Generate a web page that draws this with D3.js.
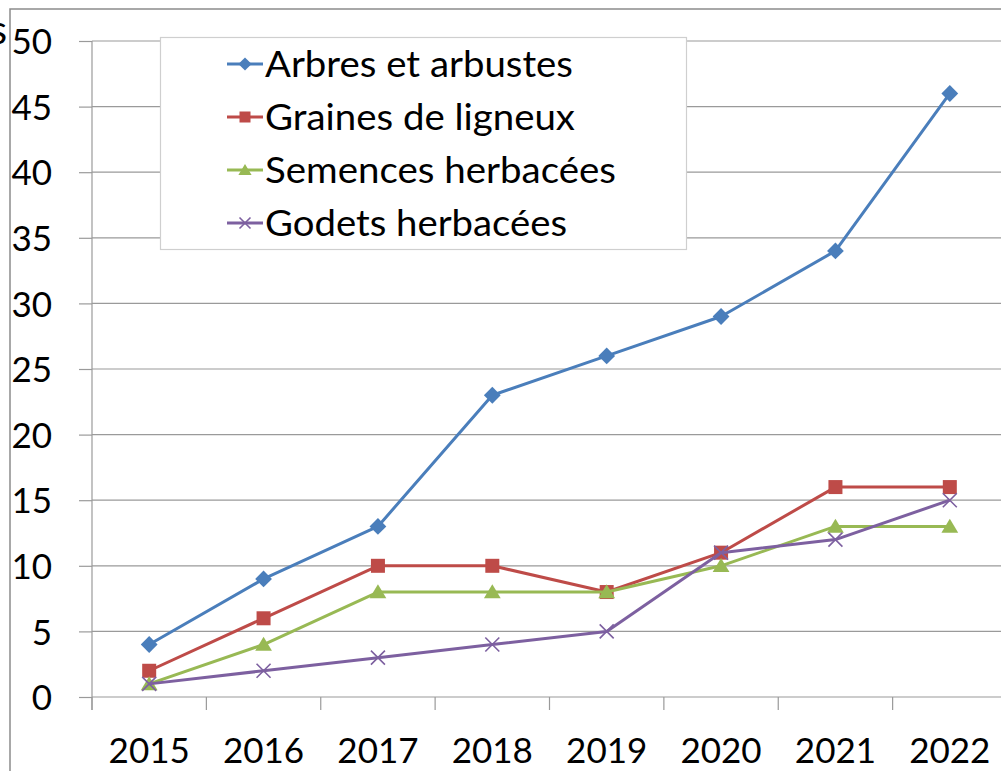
<!DOCTYPE html>
<html>
<head>
<meta charset="utf-8">
<script src="https://cdn.jsdelivr.net/npm/d3@7"></script>
<style>
  body { margin: 0; background: #fff; }
  svg { display: block; font-family: Lato, "Open Sans", sans-serif; }
</style>
</head>
<body>
<div id="chart"></div>
<script>
// data
const years = ["2015", "2016", "2017", "2018", "2019", "2020", "2021", "2022"];
const arbres   = [4, 9, 13, 23, 26, 29, 34, 46];
const graines  = [2, 6, 10, 10, 8, 11, 16, 16];
const semences = [1, 4, 8, 8, 8, 10, 13, 13];
const godets   = [1, 2, 3, 4, 5, 11, 12, 15];
const seriesNames = ["Arbres et arbustes", "Graines de ligneux", "Semences herbacées", "Godets herbacées"];
const yTicks = [0, 5, 10, 15, 20, 25, 30, 35, 40, 45, 50];

const width = 1001, height = 771;
const plotLeft = 92, plotRight = 1007, plotTop = 41, plotBottom = 697;

const series = [
  { name: seriesNames[0], values: arbres,   color: "#4a7ebb", marker: "diamond" },
  { name: seriesNames[1], values: graines,  color: "#be4b48", marker: "square" },
  { name: seriesNames[2], values: semences, color: "#98b954", marker: "triangle" },
  { name: seriesNames[3], values: godets,   color: "#7d60a0", marker: "cross" }
];
// legend label widths in the reference (Calibri is wider than Lato here)
const legendWidths = [308, 310, 351, 302];

const svg = d3.select("#chart").append("svg")
  .attr("width", width)
  .attr("height", height);

// outer chart frame (cut by the crop)
svg.append("path")
  .attr("d", `M10,${height} L10,9 L${width},9`)
  .attr("fill", "none")
  .attr("stroke", "#8c8c8c")
  .attr("stroke-width", 1.5);

// leftover of a title cut by the crop
svg.append("text")
  .attr("x", 7).attr("y", 44)
  .attr("text-anchor", "end")
  .attr("font-size", 40)
  .text("s");

const x = d3.scaleBand().domain(years).range([plotLeft, plotRight]).paddingInner(0).paddingOuter(0);
const y = d3.scaleLinear().domain([0, 50]).range([plotBottom, plotTop]);
const cx = d => x(d) + x.bandwidth() / 2;

const grid = "#9a9a9a";

// horizontal gridlines
svg.append("g").selectAll("line")
  .data(yTicks)
  .join("line")
  .attr("x1", plotLeft).attr("x2", width)
  .attr("y1", d => y(d)).attr("y2", d => y(d))
  .attr("stroke", grid)
  .attr("stroke-width", 1.2);

// y axis
const yAxis = svg.append("g")
  .attr("transform", `translate(${plotLeft},0)`)
  .call(d3.axisLeft(y).tickValues(yTicks).tickSize(13).tickPadding(27));
yAxis.select(".domain").remove();
yAxis.selectAll(".tick line").attr("stroke", grid).attr("stroke-width", 1.2);
yAxis.selectAll("text")
  .attr("font-size", 35)
  .attr("font-family", "Lato, 'Open Sans', sans-serif")
  .attr("fill", "#000")
  .attr("dy", "0.36em");
svg.append("line")
  .attr("x1", plotLeft).attr("x2", plotLeft)
  .attr("y1", plotTop).attr("y2", plotBottom + 13)
  .attr("stroke", grid).attr("stroke-width", 1.2);

// x axis: ticks between categories, labels centred
const edges = years.map(d => x(d)).concat([x(years[years.length - 1]) + x.bandwidth()]);
svg.append("g").selectAll("line")
  .data(edges)
  .join("line")
  .attr("x1", d => d).attr("x2", d => d)
  .attr("y1", plotBottom).attr("y2", plotBottom + 13)
  .attr("stroke", grid).attr("stroke-width", 1.2);

svg.append("g").selectAll("text")
  .data(years)
  .join("text")
  .attr("x", d => cx(d))
  .attr("y", 763)
  .attr("text-anchor", "middle")
  .attr("font-size", 35)
  .text(d => d);

// series lines
const line = d3.line()
  .x((v, i) => cx(years[i]))
  .y(v => y(v));

function drawMarker(g, type, color, px, py, s) {
  if (type === "diamond") {
    g.append("path")
      .attr("d", `M${px},${py - s * 0.6} L${px + s * 0.6},${py} L${px},${py + s * 0.6} L${px - s * 0.6},${py} Z`)
      .attr("fill", color);
  } else if (type === "square") {
    g.append("rect")
      .attr("x", px - s / 2).attr("y", py - s / 2)
      .attr("width", s).attr("height", s)
      .attr("fill", color);
  } else if (type === "triangle") {
    g.append("path")
      .attr("d", `M${px},${py - s * 0.55} L${px + s * 0.6},${py + s * 0.45} L${px - s * 0.6},${py + s * 0.45} Z`)
      .attr("fill", color);
  } else {
    const h = s * 0.5;
    g.append("path")
      .attr("d", `M${px - h},${py - h} L${px + h},${py + h} M${px - h},${py + h} L${px + h},${py - h}`)
      .attr("stroke", color)
      .attr("stroke-width", 1.6)
      .attr("fill", "none");
  }
}

series.forEach(s => {
  const g = svg.append("g");
  g.append("path")
    .datum(s.values)
    .attr("d", line)
    .attr("fill", "none")
    .attr("stroke", s.color)
    .attr("stroke-width", 3)
    .attr("stroke-linejoin", "round");
  s.values.forEach((v, i) => drawMarker(g, s.marker, s.color, cx(years[i]), y(v), 14));
});

// legend
const legend = svg.append("g");
legend.append("rect")
  .attr("x", 160.5).attr("y", 37.5)
  .attr("width", 526).attr("height", 212)
  .attr("fill", "#fff")
  .attr("stroke", "#cfcfcf")
  .attr("stroke-width", 1.2);

series.forEach((s, i) => {
  const ly = 64 + i * 53;
  legend.append("line")
    .attr("x1", 227).attr("x2", 263)
    .attr("y1", ly).attr("y2", ly)
    .attr("stroke", s.color)
    .attr("stroke-width", 3);
  drawMarker(legend, s.marker, s.color, 245, ly, 11);
  legend.append("text")
    .attr("x", 265).attr("y", ly)
    .attr("dy", "0.36em")
    .attr("font-size", 36)
    .attr("textLength", legendWidths[i])
    .attr("lengthAdjust", "spacingAndGlyphs")
    .text(s.name);
});
</script>
</body>
</html>
